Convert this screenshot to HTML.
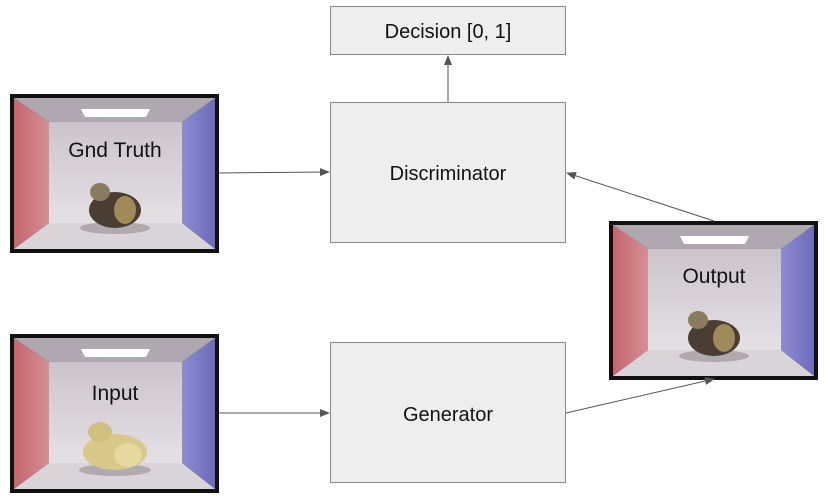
<!DOCTYPE html>
<html><head><meta charset="utf-8"><style>
html,body{margin:0;padding:0;background:#fff;}
svg{display:block;font-family:"Liberation Sans",Arial,sans-serif;}
</style></head><body>
<svg width="828" height="499" viewBox="0 0 828 499">
<defs>
<linearGradient id="lw" x1="0" x2="1"><stop offset="0" stop-color="#c4666d"/><stop offset="1" stop-color="#d68f93"/></linearGradient>
<linearGradient id="rw" x1="0" x2="1"><stop offset="0" stop-color="#8d8cd0"/><stop offset="1" stop-color="#6c6bbb"/></linearGradient>
<linearGradient id="bw" x1="0" y1="0" x2="0" y2="1"><stop offset="0" stop-color="#cbc5cb"/><stop offset="1" stop-color="#e4e0e4"/></linearGradient>
<marker id="ah" markerWidth="10" markerHeight="8" refX="9" refY="4" orient="auto" markerUnits="userSpaceOnUse"><path d="M0,0 L10,4 L0,8 z" fill="#555"/></marker>
<g id="box">
<rect x="0" y="0" width="209" height="159" fill="#111"/>
<polygon points="4,4 39,28 39,129 4,155" fill="url(#lw)"/>
<polygon points="205,4 172,28 172,129 205,155" fill="url(#rw)"/>
<polygon points="4,4 205,4 172,28 39,28" fill="#b0a8b0"/>
<polygon points="4,155 205,155 172,129 39,129" fill="#d8d4d8"/>
<rect x="39" y="28" width="133" height="101" fill="url(#bw)"/>
<polygon points="71,15 140,15 136,23 75,23" fill="#fff"/>
</g>
</defs>

<g>
<use href="#box" x="10" y="94"/>
<ellipse cx="115" cy="228" rx="35" ry="6" fill="#b0aaae"/>
<ellipse cx="115" cy="210" rx="26" ry="18" fill="#4a3e34"/>
<ellipse cx="100" cy="192" rx="10" ry="9" fill="#8a7a60"/>
<ellipse cx="125" cy="210" rx="11" ry="14" fill="#a08a5a"/>
<text x="115" y="157" font-size="21" text-anchor="middle" fill="#111">Gnd Truth</text>
</g>
<g>
<use href="#box" x="10" y="334"/>
<ellipse cx="115" cy="470" rx="36" ry="6" fill="#b0aaae"/>
<ellipse cx="115" cy="452" rx="32" ry="18" fill="#d8c98a"/>
<ellipse cx="100" cy="432" rx="12" ry="10" fill="#cfc080"/>
<ellipse cx="128" cy="455" rx="14" ry="12" fill="#e6d9a0"/>
<text x="115" y="400" font-size="21" text-anchor="middle" fill="#111">Input</text>
</g>
<g>
<use href="#box" x="609" y="221"/>
<ellipse cx="714" cy="356" rx="35" ry="6" fill="#b0aaae"/>
<ellipse cx="714" cy="338" rx="26" ry="18" fill="#4a3e34"/>
<ellipse cx="698" cy="320" rx="10" ry="9" fill="#8a7a60"/>
<ellipse cx="724" cy="338" rx="11" ry="14" fill="#a08a5a"/>
<text x="714" y="283" font-size="21" text-anchor="middle" fill="#111">Output</text>
</g>

<g>
<rect x="330.5" y="6.5" width="235" height="48" fill="#eeeeee" stroke="#888"/>
<text x="448" y="38" font-size="20" text-anchor="middle" fill="#111">Decision [0, 1]</text>
</g>
<g>
<rect x="330.5" y="102.5" width="235" height="140" fill="#eeeeee" stroke="#888"/>
<text x="448" y="180" font-size="20" text-anchor="middle" fill="#111">Discriminator</text>
</g>
<g>
<rect x="330.5" y="342.5" width="235" height="140" fill="#eeeeee" stroke="#888"/>
<text x="448" y="421" font-size="20" text-anchor="middle" fill="#111">Generator</text>
</g>

<g stroke="#555" stroke-width="1" fill="none">
<line x1="448" y1="102" x2="448" y2="56" marker-end="url(#ah)"/>
<line x1="219" y1="173" x2="329" y2="172" marker-end="url(#ah)"/>
<line x1="714" y1="221" x2="567" y2="173" marker-end="url(#ah)"/>
<line x1="219" y1="413" x2="329" y2="413" marker-end="url(#ah)"/>
<line x1="566" y1="413" x2="714" y2="379" marker-end="url(#ah)"/>
</g>
</svg>
</body></html>
